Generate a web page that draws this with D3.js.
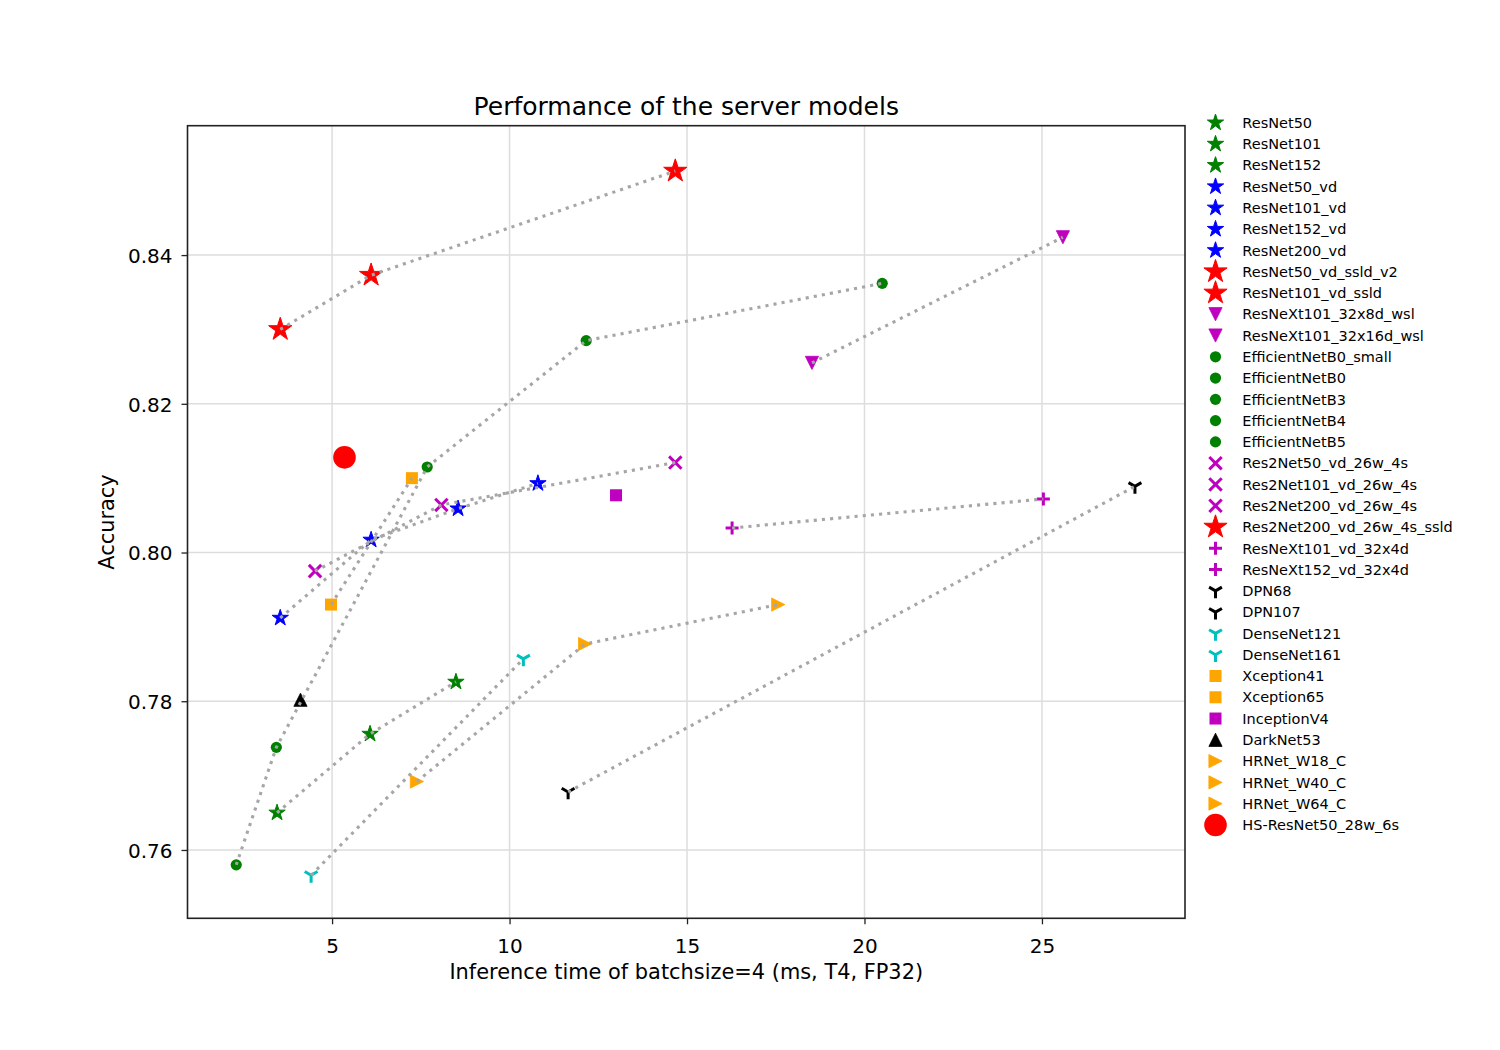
<!DOCTYPE html>
<html>
<head>
<meta charset="utf-8">
<script src="https://cdn.jsdelivr.net/npm/d3@7"></script>
<style>
  html, body { margin: 0; padding: 0; background: #fff; }
  svg { display: block; font-family: "DejaVu Sans", sans-serif; }
</style>
</head>
<body>
<svg id="chart" width="1500" height="1050"></svg>
<script>
// ---------------- data ----------------
const models = [
  "ResNet50", "ResNet101", "ResNet152",
  "ResNet50_vd", "ResNet101_vd", "ResNet152_vd", "ResNet200_vd",
  "ResNet50_vd_ssld_v2", "ResNet101_vd_ssld",
  "ResNeXt101_32x8d_wsl", "ResNeXt101_32x16d_wsl",
  "EfficientNetB0_small", "EfficientNetB0", "EfficientNetB3", "EfficientNetB4", "EfficientNetB5",
  "Res2Net50_vd_26w_4s", "Res2Net101_vd_26w_4s", "Res2Net200_vd_26w_4s", "Res2Net200_vd_26w_4s_ssld",
  "ResNeXt101_vd_32x4d", "ResNeXt152_vd_32x4d",
  "DPN68", "DPN107",
  "DenseNet121", "DenseNet161",
  "Xception41", "Xception65",
  "InceptionV4", "DarkNet53",
  "HRNet_W18_C", "HRNet_W40_C", "HRNet_W64_C",
  "HS-ResNet50_28w_6s"
];
const inferenceTime = [
  3.45, 6.07, 8.49,
  3.54, 6.10, 8.55, 10.80,
  3.54, 6.10,
  18.52, 25.59,
  2.30, 3.43, 7.68, 12.16, 20.50,
  4.52, 8.08, 14.67, 14.67,
  16.27, 25.04,
  11.65, 27.62,
  4.41, 10.39,
  4.97, 7.25,
  13.00, 4.11,
  7.39, 12.13, 17.57,
  5.35
];
const accuracy = [
  0.7650, 0.7756, 0.7826,
  0.7912, 0.8017, 0.8059, 0.8093,
  0.8300, 0.8373,
  0.8255, 0.8424,
  0.7580, 0.7738, 0.8115, 0.8285, 0.8362,
  0.7975, 0.8064, 0.8121, 0.8513,
  0.8033, 0.8072,
  0.7678, 0.8089,
  0.7566, 0.7857,
  0.7930, 0.8100,
  0.8077, 0.7802,
  0.7692, 0.7877, 0.7930,
  0.8128
];
const lineGroups = [
  ["ResNet50", "ResNet101", "ResNet152"],
  ["ResNet50_vd", "ResNet101_vd", "ResNet152_vd", "ResNet200_vd"],
  ["ResNet50_vd_ssld_v2", "ResNet101_vd_ssld", "Res2Net200_vd_26w_4s_ssld"],
  ["ResNeXt101_32x8d_wsl", "ResNeXt101_32x16d_wsl"],
  ["EfficientNetB0_small", "EfficientNetB0", "EfficientNetB3", "EfficientNetB4", "EfficientNetB5"],
  ["Res2Net50_vd_26w_4s", "Res2Net101_vd_26w_4s", "Res2Net200_vd_26w_4s"],
  ["ResNeXt101_vd_32x4d", "ResNeXt152_vd_32x4d"],
  ["DPN68", "DPN107"],
  ["DenseNet121", "DenseNet161"],
  ["Xception41", "Xception65"],
  ["HRNet_W18_C", "HRNet_W40_C", "HRNet_W64_C"]
];
const xTicks = [5, 10, 15, 20, 25];
const yTicks = [0.76, 0.78, 0.80, 0.82, 0.84];
const xDomain = [0.927, 29.03];
const yDomain = [0.75081, 0.8574];

// ---------------- styles ----------------
const C = { green: "#008000", blue: "#0000ff", red: "#ff0000", mag: "#bf00bf",
            black: "#000000", cyan: "#00bfbf", orange: "#ffa500" };
const styleOf = {
  "ResNet50": ["star", C.green, 8.6], "ResNet101": ["star", C.green, 8.6], "ResNet152": ["star", C.green, 8.6],
  "ResNet50_vd": ["star", C.blue, 8.6], "ResNet101_vd": ["star", C.blue, 8.6],
  "ResNet152_vd": ["star", C.blue, 8.6], "ResNet200_vd": ["star", C.blue, 8.6],
  "ResNet50_vd_ssld_v2": ["star", C.red, 12.2], "ResNet101_vd_ssld": ["star", C.red, 12.2],
  "ResNeXt101_32x8d_wsl": ["tridown", C.mag, 6.6], "ResNeXt101_32x16d_wsl": ["tridown", C.mag, 6.6],
  "EfficientNetB0_small": ["circle", C.green, 5.6], "EfficientNetB0": ["circle", C.green, 5.6],
  "EfficientNetB3": ["circle", C.green, 5.6], "EfficientNetB4": ["circle", C.green, 5.6],
  "EfficientNetB5": ["circle", C.green, 5.6],
  "Res2Net50_vd_26w_4s": ["x", C.mag, 6.2], "Res2Net101_vd_26w_4s": ["x", C.mag, 6.2],
  "Res2Net200_vd_26w_4s": ["x", C.mag, 6.2], "Res2Net200_vd_26w_4s_ssld": ["star", C.red, 12.2],
  "ResNeXt101_vd_32x4d": ["plus", C.mag, 6.5], "ResNeXt152_vd_32x4d": ["plus", C.mag, 6.5],
  "DPN68": ["Y", C.black, 7.4], "DPN107": ["Y", C.black, 7.4],
  "DenseNet121": ["Y", C.cyan, 7.4], "DenseNet161": ["Y", C.cyan, 7.4],
  "Xception41": ["square", C.orange, 6.0], "Xception65": ["square", C.orange, 6.0],
  "InceptionV4": ["square", C.mag, 6.0], "DarkNet53": ["triup", C.black, 6.6],
  "HRNet_W18_C": ["triright", C.orange, 6.6], "HRNet_W40_C": ["triright", C.orange, 6.6],
  "HRNet_W64_C": ["triright", C.orange, 6.6],
  "HS-ResNet50_28w_6s": ["circle", C.red, 11.3]
};

function drawMarker(g, shape, color, r) {
  if (shape === "circle") {
    g.append("circle").attr("r", r).attr("fill", color);
  } else if (shape === "star") {
    const pts = [];
    for (let i = 0; i < 10; i++) {
      const a = -Math.PI / 2 + i * Math.PI / 5;
      const rr = i % 2 === 0 ? r : r * 0.381966;
      pts.push([rr * Math.cos(a), rr * Math.sin(a)]);
    }
    g.append("path").attr("d", d3.line()(pts) + "Z").attr("fill", color)
      .attr("stroke", color).attr("stroke-width", 1).attr("stroke-linejoin", "miter");
  } else if (shape === "square") {
    g.append("rect").attr("x", -r).attr("y", -r).attr("width", 2 * r).attr("height", 2 * r)
      .attr("fill", color);
  } else if (shape === "tridown" || shape === "triup" || shape === "triright") {
    let pts;
    if (shape === "tridown") pts = [[0, r], [-r, -r], [r, -r]];
    else if (shape === "triup") pts = [[0, -r], [-r, r], [r, r]];
    else pts = [[r, 0], [-r, -r], [-r, r]];
    g.append("path").attr("d", d3.line()(pts) + "Z").attr("fill", color)
      .attr("stroke", color).attr("stroke-width", 0.8);
  } else if (shape === "x") {
    g.append("path").attr("d", `M${-r},${-r}L${r},${r}M${-r},${r}L${r},${-r}`)
      .attr("stroke", color).attr("stroke-width", 3).attr("fill", "none");
  } else if (shape === "plus") {
    g.append("path").attr("d", `M${-r},0L${r},0M0,${-r}L0,${r}`)
      .attr("stroke", color).attr("stroke-width", 3).attr("fill", "none");
  } else if (shape === "Y") {
    const s = 0.866 * r, h = 0.5 * r;
    g.append("path").attr("d", `M0,0L0,${r}M0,0L${-s},${-h}M0,0L${s},${-h}`)
      .attr("stroke", color).attr("stroke-width", 3).attr("fill", "none");
  }
}

// ---------------- chart ----------------
const svg = d3.select("#chart");
const L = 187.5, R = 1185, T = 125.7, B = 918.3;
const x = d3.scaleLinear().domain(xDomain).range([L, R]);
const y = d3.scaleLinear().domain(yDomain).range([B, T]);

const points = models.map((m, i) => ({ name: m, t: inferenceTime[i], a: accuracy[i] }));
const byName = new Map(points.map(p => [p.name, p]));

// grid
const grid = svg.append("g");
grid.selectAll(".gx").data(xTicks).join("line")
  .attr("x1", d => x(d)).attr("x2", d => x(d)).attr("y1", T).attr("y2", B)
  .attr("stroke", "#dddddd").attr("stroke-width", 1.5);
grid.selectAll(".gy").data(yTicks).join("line")
  .attr("y1", d => y(d)).attr("y2", d => y(d)).attr("x1", L).attr("x2", R)
  .attr("stroke", "#dddddd").attr("stroke-width", 1.5);

// markers
const mk = svg.append("g");
points.forEach(p => {
  const st = styleOf[p.name];
  const g = mk.append("g").attr("transform", `translate(${x(p.t)},${y(p.a)})`);
  drawMarker(g, st[0], st[1], st[2]);
});

// connecting lines (drawn over markers)
const lineGen = d3.line().x(d => x(d.t)).y(d => y(d.a));
svg.append("g").selectAll("path").data(lineGroups).join("path")
  .attr("d", grp => lineGen(grp.map(n => byName.get(n))))
  .attr("fill", "none").attr("stroke", "#a6a6a6").attr("stroke-width", 3.1)
  .attr("stroke-dasharray", "3.1 5.1");

// axes
const xAxis = d3.axisBottom(x).tickValues(xTicks).tickFormat(d3.format("d")).tickSize(6).tickPadding(9.5);
const yAxis = d3.axisLeft(y).tickValues(yTicks).tickFormat(d3.format(".2f")).tickSize(6).tickPadding(9);
const gx = svg.append("g").attr("transform", `translate(0,${B})`).call(xAxis);
const gy = svg.append("g").attr("transform", `translate(${L},0)`).call(yAxis);
[gx, gy].forEach(g => {
  g.select(".domain").remove();
  g.selectAll(".tick line").attr("stroke", "#222").attr("stroke-width", 1.3);
  g.selectAll(".tick text").attr("fill", "#000").style("font-size", "20px")
    .style("font-family", "DejaVu Sans, sans-serif");
});
gx.selectAll(".tick text").attr("dy", "0.95em");
gy.selectAll(".tick text").attr("dy", "0.36em");

// frame
svg.append("rect").attr("x", L).attr("y", T).attr("width", R - L).attr("height", B - T)
  .attr("fill", "none").attr("stroke", "#222").attr("stroke-width", 1.6);

// titles
svg.append("text").attr("x", (L + R) / 2).attr("y", 115).attr("text-anchor", "middle")
  .style("font-size", "25px").text("Performance of the server models");
svg.append("text").attr("x", (L + R) / 2).attr("y", 979).attr("text-anchor", "middle")
  .style("font-size", "20.9px").text("Inference time of batchsize=4 (ms, T4, FP32)");
svg.append("text").attr("transform", `translate(114,${(T + B) / 2}) rotate(-90)`)
  .attr("text-anchor", "middle").style("font-size", "20.9px").text("Accuracy");

// legend
const leg = svg.append("g");
models.forEach((m, i) => {
  const yy = 122.7 + i * 21.28;
  const st = styleOf[m];
  const g = leg.append("g").attr("transform", `translate(1215.5,${yy})`);
  drawMarker(g, st[0], st[1], st[2]);
  leg.append("text").attr("x", 1242.3).attr("y", yy).attr("dy", "0.36em")
    .style("font-size", "14.5px").text(m);
});
</script>
</body>
</html>
